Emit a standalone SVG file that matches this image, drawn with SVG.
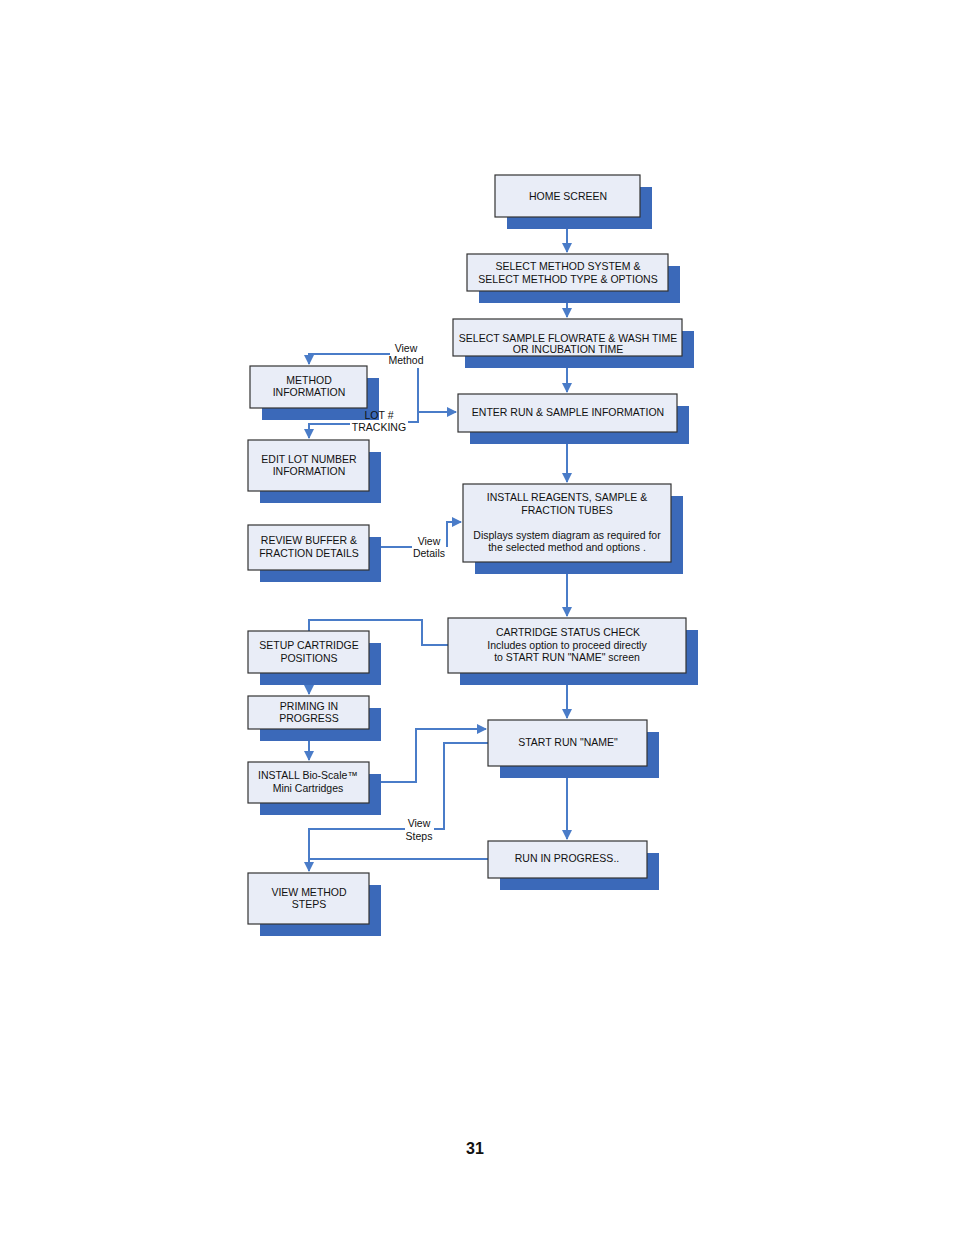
<svg xmlns="http://www.w3.org/2000/svg" width="954" height="1235" viewBox="0 0 954 1235">
<style>
.b{fill:#e9edf7;stroke:#333;stroke-width:1.2}
.s{fill:#3b69b9}
text{font-family:"Liberation Sans",Arial,sans-serif;font-size:10.5px;fill:#111;text-anchor:middle}
.c{fill:none;stroke:#4a7cc8;stroke-width:2}
</style>
<defs><marker id="a" viewBox="0 0 10 10" refX="9" refY="5" markerWidth="5" markerHeight="5" orient="auto"><path d="M0,0L10,5L0,10z" fill="#4a7cc8"/></marker></defs>
<rect width="954" height="1235" fill="#fff"/>
<g id="conn" class="c">
<path d="M567,217V252" marker-end="url(#a)"/>
<path d="M567,291V317" marker-end="url(#a)"/>
<path d="M567,356V392" marker-end="url(#a)"/>
<path d="M567,432V482" marker-end="url(#a)"/>
<path d="M567,562V616" marker-end="url(#a)"/>
<path d="M567,673V718" marker-end="url(#a)"/>
<path d="M567,778V839" marker-end="url(#a)"/>
<path d="M390,354H309V364" marker-end="url(#a)"/>
<path d="M350,424H309V438" marker-end="url(#a)"/>
<path d="M418,368V422H408"/>
<path d="M418,412H456" marker-end="url(#a)"/>
<path d="M381,547H412"/>
<path d="M447,547V522H461" marker-end="url(#a)"/>
<path d="M448,645H422V620H309V631"/>
<path d="M309,685V694" marker-end="url(#a)"/>
<path d="M309,741V760" marker-end="url(#a)"/>
<path d="M381,782H416V729H486" marker-end="url(#a)"/>
<path d="M488,743H444V829H434"/>
<path d="M405,829H309V871" marker-end="url(#a)"/>
<path d="M488,859H309"/>
</g>
<g id="n1"><rect class="s" x="507" y="187" width="145" height="42"/><rect class="b" x="495" y="175" width="145" height="42"/><text x="568" y="200">HOME SCREEN</text></g>
<g id="n2"><rect class="s" x="479" y="266" width="201" height="37"/><rect class="b" x="467" y="254" width="201" height="37"/><text x="568" y="270">SELECT METHOD SYSTEM &amp;</text><text x="568" y="283">SELECT METHOD TYPE &amp; OPTIONS</text></g>
<g id="n3"><rect class="s" x="465" y="331" width="229" height="37"/><rect class="b" x="453" y="319" width="229" height="37"/><text x="568" y="342">SELECT SAMPLE FLOWRATE &amp; WASH TIME</text><text x="568" y="353">OR  INCUBATION  TIME</text></g>
<g id="n4"><rect class="s" x="470" y="406" width="219" height="38"/><rect class="b" x="458" y="394" width="219" height="38"/><text x="568" y="416">ENTER RUN &amp; SAMPLE INFORMATION</text></g>
<g id="n5"><rect class="s" x="475" y="496" width="208" height="78"/><rect class="b" x="463" y="484" width="208" height="78"/><text x="567" y="501">INSTALL REAGENTS, SAMPLE &amp;</text><text x="567" y="514">FRACTION TUBES</text><text x="567" y="539">Displays system diagram as required for</text><text x="567" y="551">the selected method and options .</text></g>
<g id="n6"><rect class="s" x="460" y="630" width="238" height="55"/><rect class="b" x="448" y="618" width="238" height="55"/><text x="568" y="636">CARTRIDGE STATUS CHECK</text><text x="567" y="649">Includes option to proceed directly</text><text x="567" y="661">to START RUN "NAME" screen</text></g>
<g id="n7"><rect class="s" x="500" y="732" width="159" height="46"/><rect class="b" x="488" y="720" width="159" height="46"/><text x="568" y="746">START RUN "NAME"</text></g>
<g id="n8"><rect class="s" x="500" y="853" width="159" height="37"/><rect class="b" x="488" y="841" width="159" height="37"/><text x="567" y="862">RUN IN PROGRESS..</text></g>
<g id="n9"><rect class="s" x="262" y="378" width="117" height="42"/><rect class="b" x="250" y="366" width="117" height="42"/><text x="309" y="384">METHOD</text><text x="309" y="396">INFORMATION</text></g>
<g id="n10"><rect class="s" x="260" y="452" width="121" height="51"/><rect class="b" x="248" y="440" width="121" height="51"/><text x="309" y="463">EDIT LOT NUMBER</text><text x="309" y="475">INFORMATION</text></g>
<g id="n11"><rect class="s" x="260" y="537" width="121" height="45"/><rect class="b" x="248" y="525" width="121" height="45"/><text x="309" y="544">REVIEW BUFFER &amp;</text><text x="309" y="557">FRACTION DETAILS</text></g>
<g id="n12"><rect class="s" x="260" y="643" width="121" height="42"/><rect class="b" x="248" y="631" width="121" height="42"/><text x="309" y="649">SETUP CARTRIDGE</text><text x="309" y="662">POSITIONS</text></g>
<g id="n13"><rect class="s" x="260" y="708" width="121" height="33"/><rect class="b" x="248" y="696" width="121" height="33"/><text x="309" y="710">PRIMING IN</text><text x="309" y="722">PROGRESS</text></g>
<g id="n14"><rect class="s" x="260" y="774" width="121" height="41"/><rect class="b" x="248" y="762" width="121" height="41"/><text x="308" y="779">INSTALL Bio-Scale™</text><text x="308" y="792">Mini Cartridges</text></g>
<g id="n15"><rect class="s" x="260" y="885" width="121" height="51"/><rect class="b" x="248" y="873" width="121" height="51"/><text x="309" y="896">VIEW METHOD</text><text x="309" y="908">STEPS</text></g>
<g id="labels">
<text x="406" y="352">View</text><text x="406" y="364">Method</text>
<text x="379" y="419">LOT #</text><text x="379" y="431">TRACKING</text>
<text x="429" y="545">View</text><text x="429" y="557">Details</text>
<text x="419" y="827">View</text><text x="419" y="840">Steps</text>
<text x="475" y="1154" style="font-size:16px;font-weight:bold">31</text>
</g>
</svg>
